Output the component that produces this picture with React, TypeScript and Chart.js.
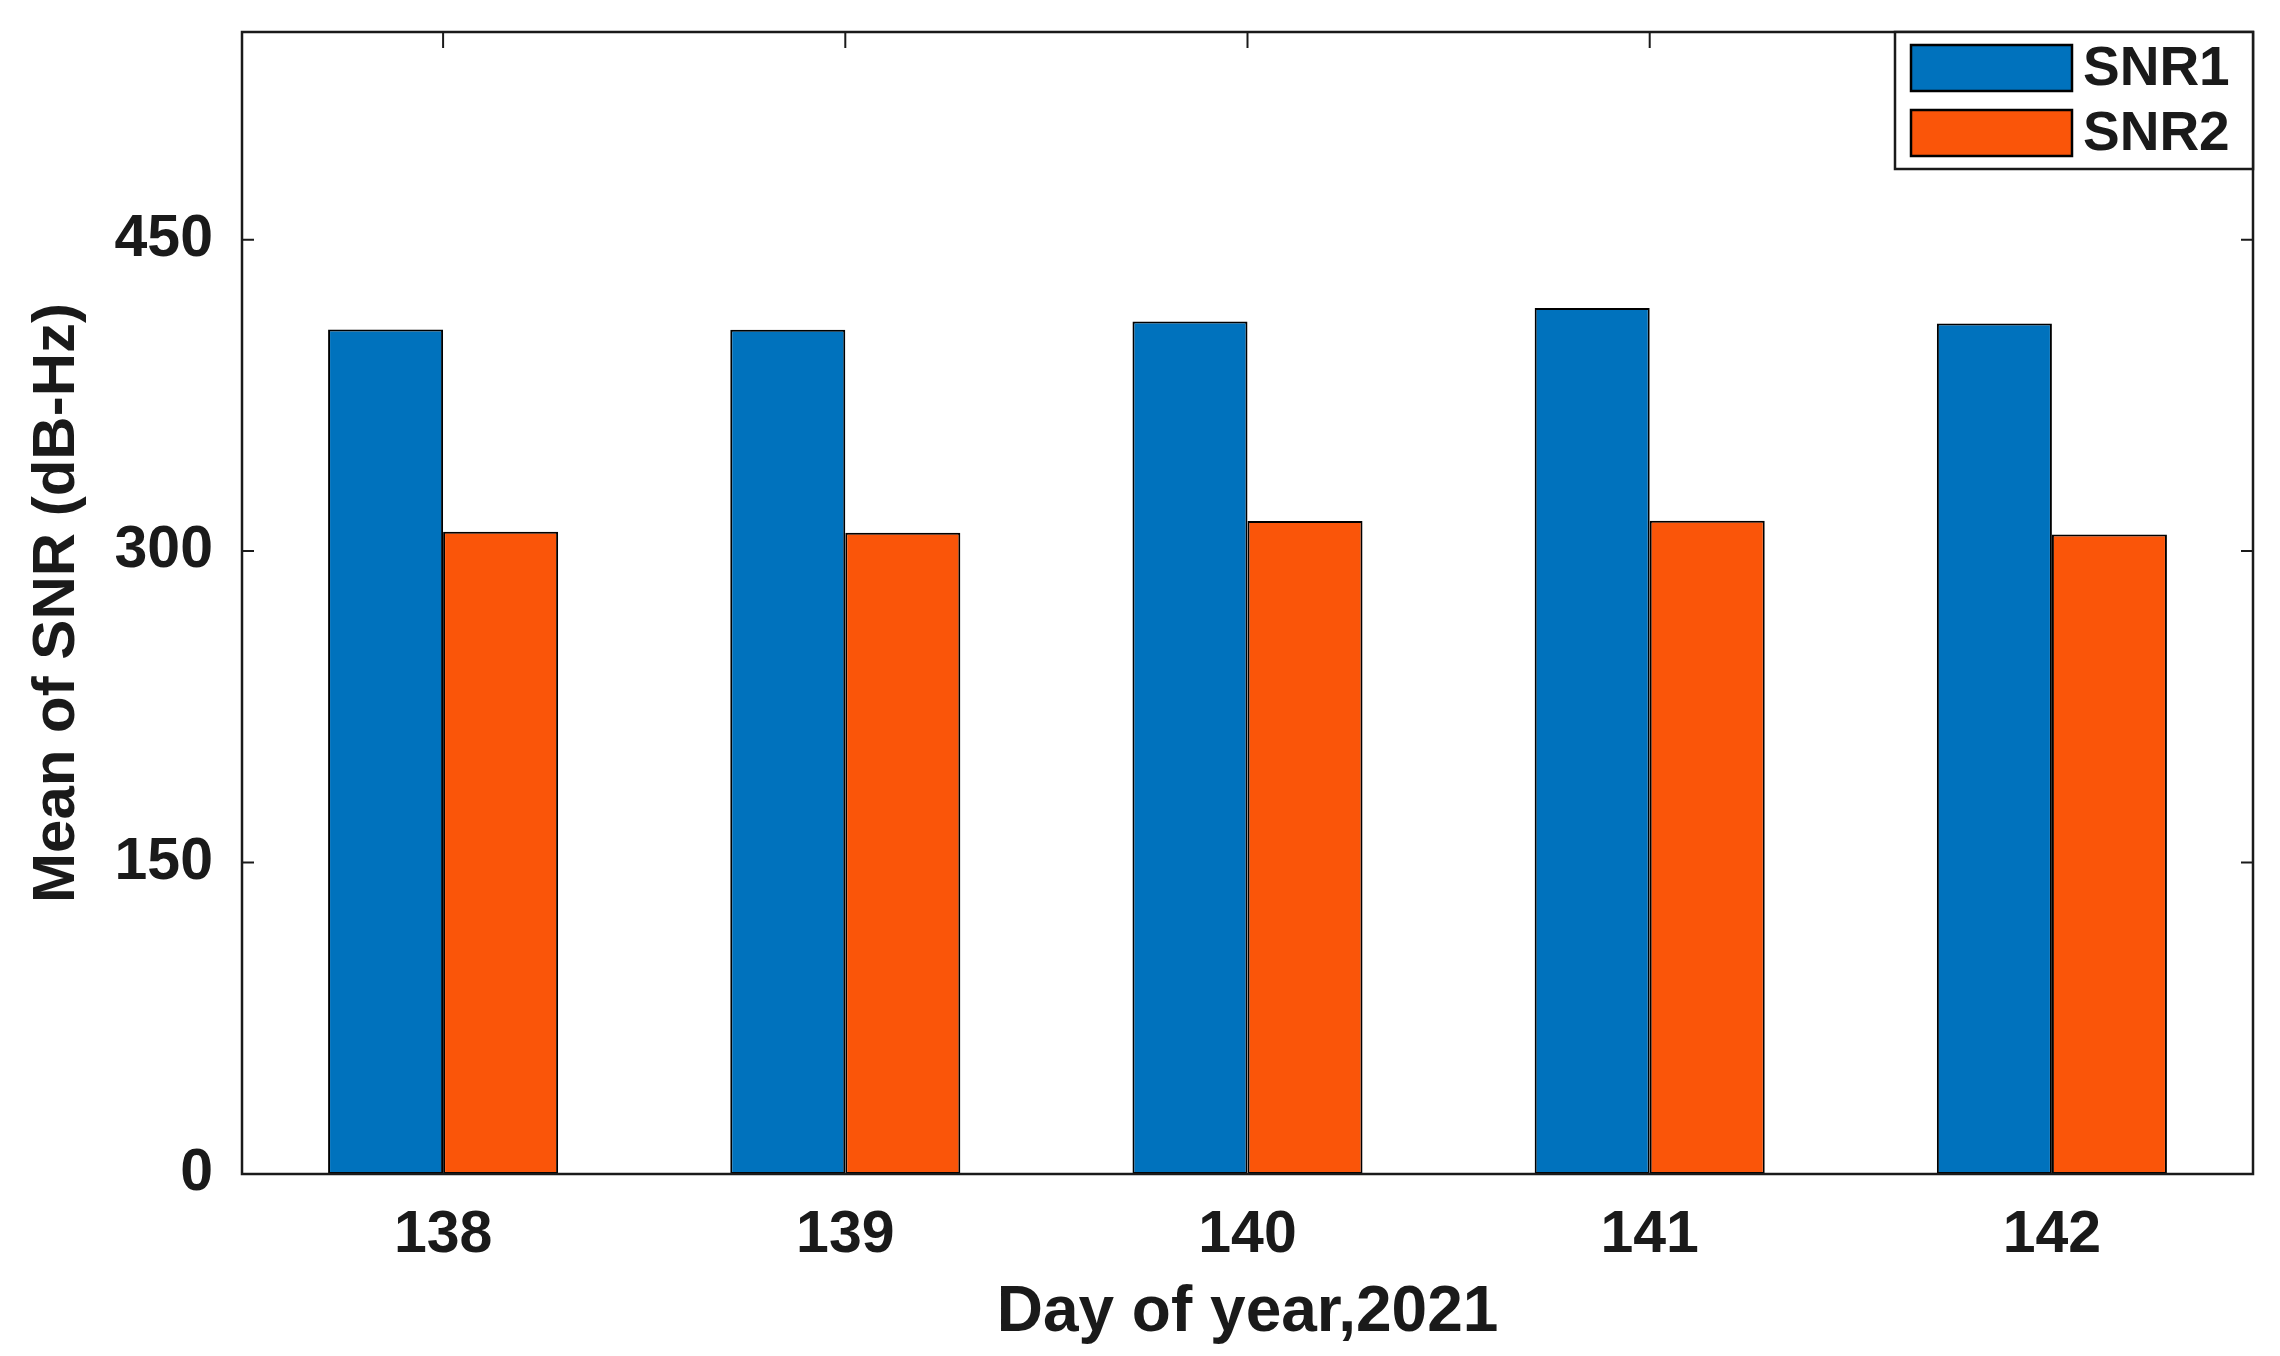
import React, { useEffect, useRef } from "react";
import { Chart, registerables } from "chart.js";

Chart.register(...registerables);

const categories = ["138", "139", "140", "141", "142"];
const snr1 = [406.7, 406.6, 410.6, 417.1, 409.6];
const snr2 = [309.3, 308.8, 314.5, 314.6, 308.0];
const seriesNames = ["SNR1", "SNR2"];
const yTicks = [0, 150, 300, 450];
const yMax = 550;

const BLUE = "#0072BD";
const ORANGE = "#FA5509";
const TEXT = "#1a1a1a";
const FONT = "'Liberation Sans', Arial, sans-serif";

const framePlugin = {
  id: "frameAndLegend",
  afterDraw(chart: any) {
    const { ctx, chartArea } = chart;
    const { left, right, top, bottom } = chartArea;
    const ys = chart.scales.y;
    const xs = chart.scales.x;
    ctx.save();
    ctx.strokeStyle = "#1a1a1a";
    ctx.lineWidth = 2.5;
    ctx.strokeRect(left, top, right - left, bottom - top);
    ctx.lineWidth = 2;
    yTicks.forEach((v) => {
      const py = ys.getPixelForValue(v);
      ctx.beginPath();
      ctx.moveTo(left, py);
      ctx.lineTo(left + 12, py);
      ctx.moveTo(right, py);
      ctx.lineTo(right - 12, py);
      ctx.stroke();
    });
    categories.forEach((_, i) => {
      const px = xs.getPixelForValue(i);
      ctx.beginPath();
      ctx.moveTo(px, top);
      ctx.lineTo(px, top + 16);
      ctx.stroke();
    });
    // legend box inside the plot, top-right
    const lx0 = 1895, ly0 = top, lx1 = right, ly1 = top + 137;
    ctx.fillStyle = "#fff";
    ctx.fillRect(lx0, ly0, lx1 - lx0, ly1 - ly0);
    ctx.lineWidth = 2.5;
    ctx.strokeStyle = "#1a1a1a";
    ctx.strokeRect(lx0, ly0, lx1 - lx0, ly1 - ly0);
    const patchY = [top + 13, top + 78];
    chart.data.datasets.forEach((ds: any, i: number) => {
      ctx.fillStyle = ds.backgroundColor;
      ctx.fillRect(1911, patchY[i], 161, 46);
      ctx.lineWidth = 2.5;
      ctx.strokeStyle = "#000";
      ctx.strokeRect(1911, patchY[i], 161, 46);
      ctx.fillStyle = TEXT;
      ctx.font = `bold 55px ${FONT}`;
      ctx.textAlign = "left";
      ctx.textBaseline = "middle";
      ctx.fillText(ds.label, 2083, patchY[i] + 25);
    });
    ctx.restore();
  },
};

export default function App() {
  const ref = useRef<HTMLCanvasElement | null>(null);

  useEffect(() => {
    if (!ref.current) return;
    const chart = new Chart(ref.current, {
      type: "bar",
      data: {
        labels: categories,
        datasets: [
          {
            label: seriesNames[0],
            data: snr1,
            backgroundColor: BLUE,
            borderColor: "#000",
            borderWidth: 2,
            borderSkipped: false,
          },
          {
            label: seriesNames[1],
            data: snr2,
            backgroundColor: ORANGE,
            borderColor: "#000",
            borderWidth: 2,
            borderSkipped: false,
          },
        ],
      },
      options: {
        animation: false,
        responsive: true,
        maintainAspectRatio: false,
        devicePixelRatio: 1,
        layout: { padding: { top: 32, right: 27, left: 0, bottom: 0 } },
        datasets: { bar: { categoryPercentage: 0.572, barPercentage: 1 } },
        plugins: { legend: { display: false }, tooltip: { enabled: false } },
        scales: {
          x: {
            grid: { display: false, drawTicks: false },
            border: { display: false },
            ticks: {
              color: TEXT,
              padding: 26,
              font: { family: FONT, size: 59, weight: "bold" },
            },
            title: {
              display: true,
              text: "Day of year,2021",
              color: TEXT,
              font: { family: FONT, size: 64, weight: "bold" },
              padding: { top: 0, bottom: 4 },
            },
            afterFit(scale: any) {
              scale.height = 182;
              scale.paddingLeft = 0;
              scale.paddingRight = 0;
            },
          },
          y: {
            min: 0,
            max: yMax,
            grid: { display: false, drawTicks: false },
            border: { display: false },
            afterBuildTicks(scale: any) {
              scale.ticks = yTicks.map((v) => ({ value: v }));
            },
            ticks: {
              color: TEXT,
              padding: 29,
              font: { family: FONT, size: 59, weight: "bold" },
            },
            title: {
              display: true,
              text: "Mean of SNR (dB-Hz)",
              color: TEXT,
              font: { family: FONT, size: 60, weight: "bold" },
              padding: { top: 21, bottom: 0 },
            },
            afterFit(scale: any) {
              scale.width = 242;
              scale.paddingTop = 0;
              scale.paddingBottom = 0;
            },
          },
        },
      },
      plugins: [framePlugin],
    });
    return () => chart.destroy();
  }, []);

  return (
    <div
      style={{
        position: "fixed",
        left: 0,
        top: 0,
        width: 2280,
        height: 1356,
        background: "#fff",
      }}
    >
      <canvas ref={ref} />
    </div>
  );
}
